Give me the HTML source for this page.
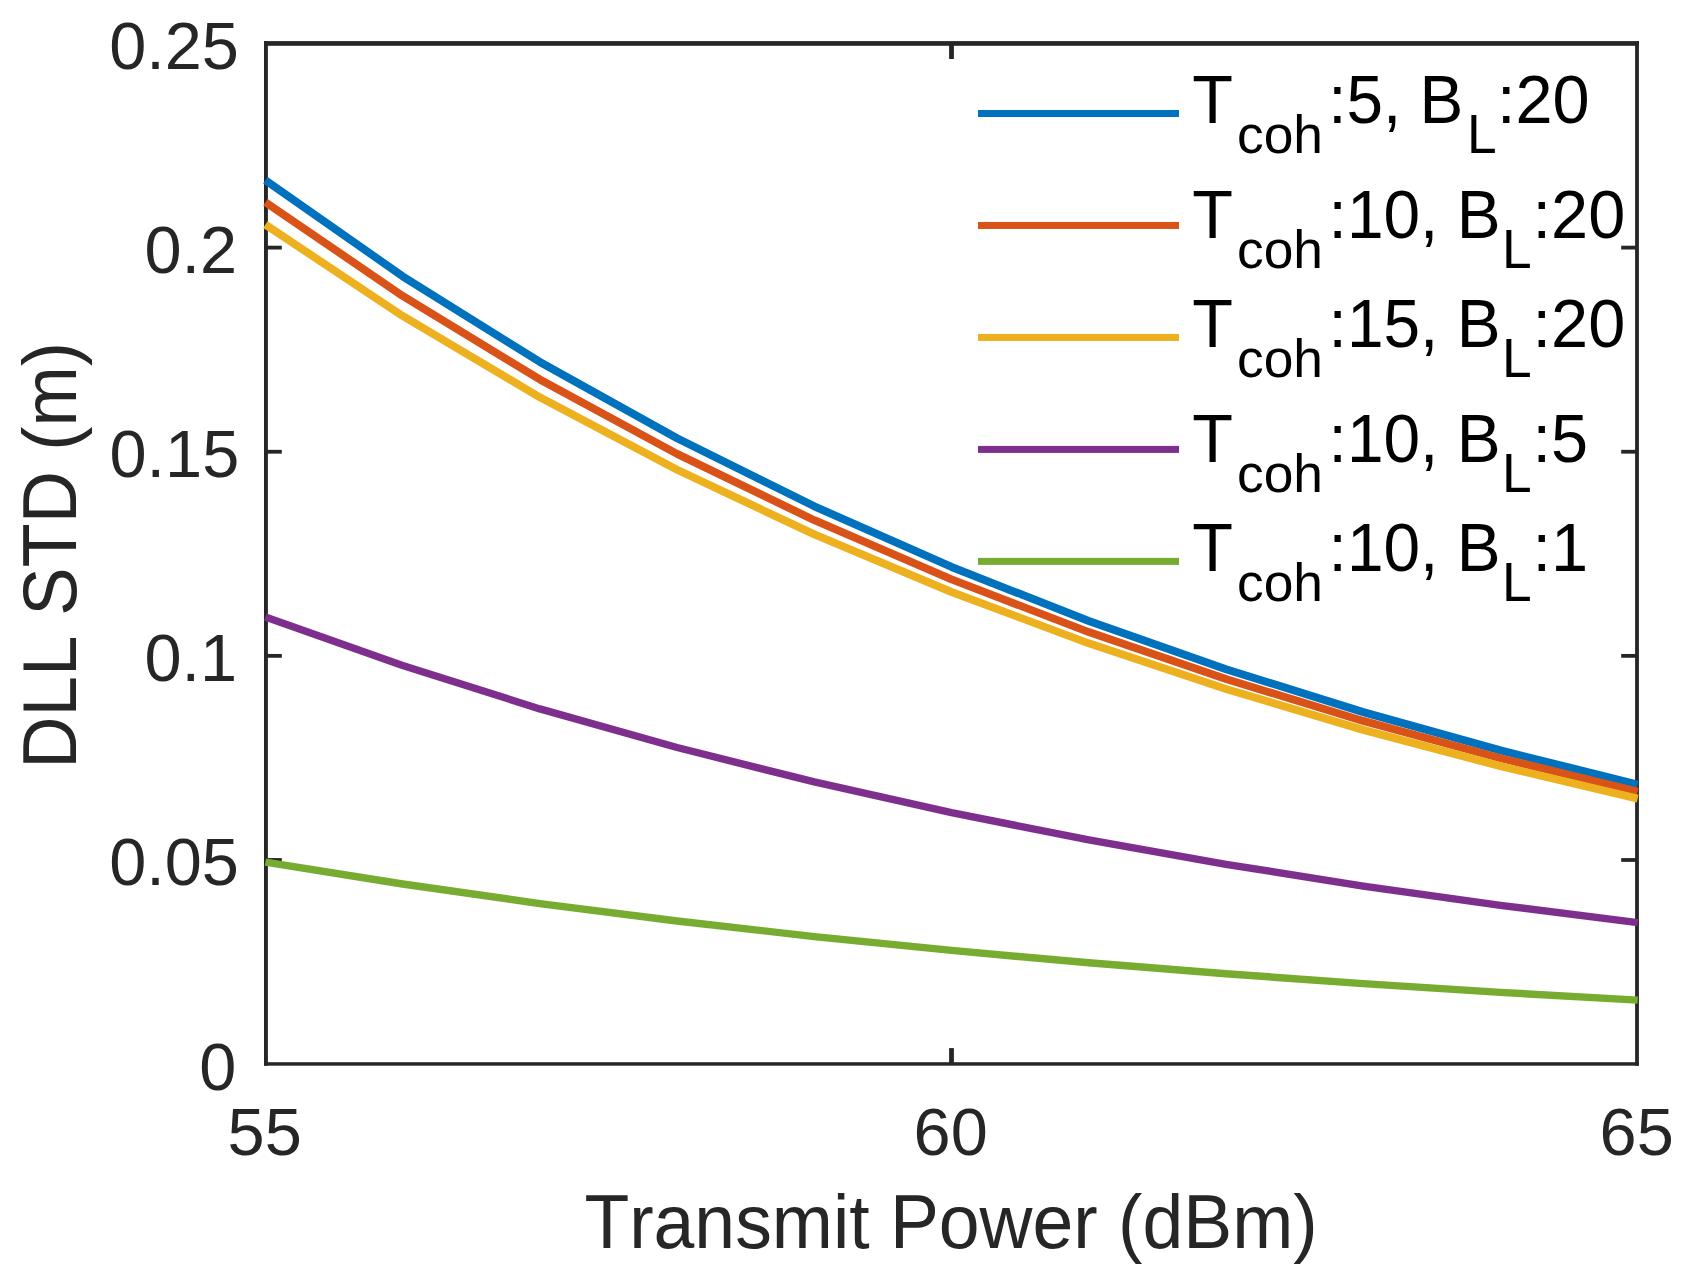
<!DOCTYPE html>
<html lang="en"><head><meta charset="utf-8"><title>DLL STD vs Transmit Power</title>
<style>html,body{margin:0;padding:0;background:#fff;overflow:hidden}svg{display:block}text{font-family:"Liberation Sans",Arial,Helvetica,sans-serif;font-kerning:none;white-space:pre}.t{font-size:66.67px;fill:#262626}.l{font-size:73.33px;fill:#262626}.g{font-size:66.67px;fill:#000}.s{font-size:53.33px;fill:#000}</style></head><body>
<svg width="1688" height="1282" viewBox="0 0 1688 1282">
<rect width="1688" height="1282" fill="#fff"/>
<g fill="#262626">
<rect x="264" y="41.1" width="3.9" height="1024.6"/>
<rect x="1635.1" y="41.1" width="3.8" height="1024.6"/>
<rect x="264" y="41.1" width="1374.9" height="4.7"/>
<rect x="264" y="1062.2" width="1374.9" height="3.5"/>
<rect x="266" y="858.08" width="15.8" height="3.8"/>
<rect x="1621.20" y="858.08" width="15.8" height="3.8"/>
<rect x="266" y="653.96" width="15.8" height="3.8"/>
<rect x="1621.20" y="653.96" width="15.8" height="3.8"/>
<rect x="266" y="449.84" width="15.8" height="3.8"/>
<rect x="1621.20" y="449.84" width="15.8" height="3.8"/>
<rect x="266" y="245.72" width="15.8" height="3.8"/>
<rect x="1621.20" y="245.72" width="15.8" height="3.8"/>
<rect x="949.10" y="1048.1" width="4.8" height="16"/>
<rect x="949.10" y="43" width="4.8" height="16.0"/>
</g>
<g fill="none" stroke-linejoin="round" stroke-linecap="butt">
<polyline stroke="#0072BD" stroke-width="7.9" points="265.40,180.16 402.63,276.28 539.86,361.94 677.09,438.29 814.32,506.33 951.55,566.98 1088.78,621.03 1226.01,669.20 1363.24,712.14 1500.47,750.40 1637.70,784.51"/>
<polyline stroke="#D95319" stroke-width="7.9" points="265.40,202.21 402.63,295.92 539.86,379.45 677.09,453.90 814.32,520.24 951.55,579.38 1088.78,632.08 1226.01,679.05 1363.24,720.91 1500.47,758.22 1637.70,791.48"/>
<polyline stroke="#EDB120" stroke-width="7.9" points="265.40,224.66 402.63,315.94 539.86,397.29 677.09,469.79 814.32,534.41 951.55,592.00 1088.78,643.33 1226.01,689.08 1363.24,729.85 1500.47,766.19 1637.70,798.58"/>
<polyline stroke="#7E2F8E" stroke-width="7.4" points="265.40,616.98 402.63,665.59 539.86,708.92 677.09,747.53 814.32,781.95 951.55,812.62 1088.78,839.96 1226.01,864.32 1363.24,886.04 1500.47,905.39 1637.70,922.64"/>
<polyline stroke="#77AC30" stroke-width="7.4" points="265.40,862.04 402.63,884.01 539.86,903.58 677.09,921.03 814.32,936.57 951.55,950.43 1088.78,962.78 1226.01,973.79 1363.24,983.60 1500.47,992.34 1637.70,1000.14"/>
</g>
<rect x="978" y="110.00" width="201" height="7" fill="#0072BD"/>
<rect x="978" y="221.97" width="201" height="7" fill="#D95319"/>
<rect x="978" y="333.94" width="201" height="7" fill="#EDB120"/>
<rect x="978" y="445.91" width="201" height="7" fill="#7E2F8E"/>
<rect x="978" y="557.88" width="201" height="7" fill="#77AC30"/>
<text class="g" transform="translate(1192.30 123.00) scale(1 1.04)">T</text>
<text class="s" transform="translate(1237.00 153.00) scale(1 1.01)">coh</text>
<text class="g" transform="translate(1328.20 123.00) scale(1 1.04)" textLength="135.1" lengthAdjust="spacingAndGlyphs">:5, B</text>
<text class="s" transform="translate(1466.90 153.00) scale(1 1.04)">L</text>
<text class="g" transform="translate(1497.00 123.00) scale(1 1.04)">:20</text>
<text class="g" transform="translate(1192.30 238.00) scale(1 1.04)">T</text>
<text class="s" transform="translate(1237.00 268.00) scale(1 1.01)">coh</text>
<text class="g" transform="translate(1328.60 238.00) scale(1 1.04)" textLength="172.0" lengthAdjust="spacingAndGlyphs">:10, B</text>
<text class="s" transform="translate(1502.00 268.00) scale(1 1.04)">L</text>
<text class="g" transform="translate(1532.60 238.00) scale(1 1.04)">:20</text>
<text class="g" transform="translate(1192.30 346.80) scale(1 1.04)">T</text>
<text class="s" transform="translate(1237.00 376.80) scale(1 1.01)">coh</text>
<text class="g" transform="translate(1328.60 346.80) scale(1 1.04)" textLength="172.0" lengthAdjust="spacingAndGlyphs">:15, B</text>
<text class="s" transform="translate(1502.00 376.80) scale(1 1.04)">L</text>
<text class="g" transform="translate(1532.60 346.80) scale(1 1.04)">:20</text>
<text class="g" transform="translate(1192.30 461.90) scale(1 1.04)">T</text>
<text class="s" transform="translate(1237.00 491.90) scale(1 1.01)">coh</text>
<text class="g" transform="translate(1328.60 461.90) scale(1 1.04)" textLength="172.0" lengthAdjust="spacingAndGlyphs">:10, B</text>
<text class="s" transform="translate(1502.00 491.90) scale(1 1.04)">L</text>
<text class="g" transform="translate(1532.60 461.90) scale(1 1.04)">:5</text>
<text class="g" transform="translate(1192.30 570.80) scale(1 1.04)">T</text>
<text class="s" transform="translate(1237.00 600.80) scale(1 1.01)">coh</text>
<text class="g" transform="translate(1328.60 570.80) scale(1 1.04)" textLength="172.0" lengthAdjust="spacingAndGlyphs">:10, B</text>
<text class="s" transform="translate(1502.00 600.80) scale(1 1.04)">L</text>
<text class="g" transform="translate(1532.60 570.80) scale(1 1.04)">:1</text>
<text class="t" transform="translate(199.20 1089.60) scale(1 1.012)">0</text>
<text class="t" transform="translate(109.20 885.48) scale(1 1.012)">0.05</text>
<text class="t" transform="translate(144.40 681.36) scale(1 1.012)">0.1</text>
<text class="t" transform="translate(109.50 477.24) scale(1 1.012)">0.15</text>
<text class="t" transform="translate(144.50 273.12) scale(1 1.012)">0.2</text>
<text class="t" transform="translate(109.15 69.00) scale(1 1.012)">0.25</text>
<text class="t" transform="translate(227.60 1155.10) scale(1 1.012)">55</text>
<text class="t" transform="translate(913.60 1155.10) scale(1 1.012)">60</text>
<text class="t" transform="translate(1599.60 1155.10) scale(1 1.012)">65</text>
<text class="l" transform="translate(584.40 1247.90) scale(1 1.04)">Transmit Power (dBm)</text>
<text class="l" transform="translate(75.8 768.7) rotate(-90) scale(1 1.04)" textLength="426.6" lengthAdjust="spacingAndGlyphs">DLL STD (m)</text>
</svg></body></html>
